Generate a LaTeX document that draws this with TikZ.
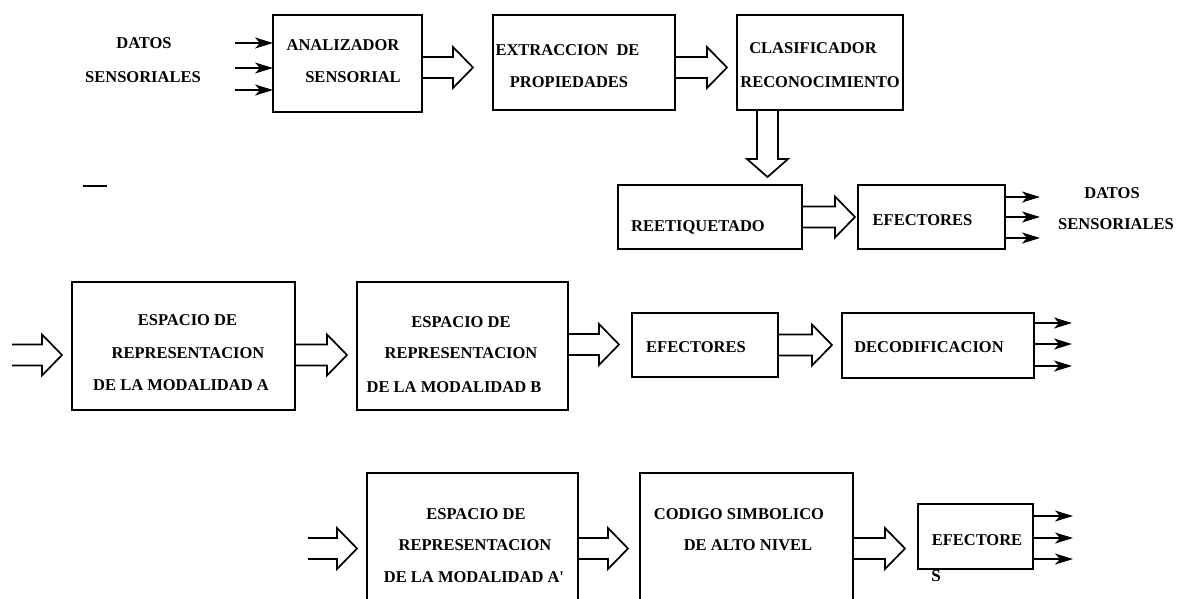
\documentclass[tikz,border=0pt]{standalone}
\usepackage{fontspec}
\setmainfont{Liberation Serif}
\usetikzlibrary{calc,arrows.meta}

% Open block arrow pointing right: shaft from #1, tip at the x of #2
\newcommand{\fatR}[2]{%
  \draw[fat] let \p1=(#1), \p2=(#2) in
    (\x1,{\y1+10.5pt}) -- ({\x2-20pt},{\y1+10.5pt}) -- ({\x2-20pt},{\y1+20.5pt})
    -- (\x2,\y1) -- ({\x2-20pt},{\y1-20.5pt}) -- ({\x2-20pt},{\y1-10.5pt})
    -- (\x1,{\y1-10.5pt});}
% Open block arrow pointing down: shaft from #1, tip at the y of #2
\newcommand{\fatD}[2]{%
  \draw[fat] let \p1=(#1), \p2=(#2) in
    ({\x1-10.5pt},\y1) -- ({\x1-10.5pt},{\y2+18pt}) -- ({\x1-20.5pt},{\y2+18pt})
    -- (\x1,\y2) -- ({\x1+20.5pt},{\y2+18pt}) -- ({\x1+10.5pt},{\y2+18pt})
    -- ({\x1+10.5pt},\y1);}

\tikzset{
  box/.style={draw, line width=1.8pt, inner sep=0pt, outer sep=0pt},
  txt/.style={inner sep=0pt, font=\fontsize{16.5}{20}\selectfont\bfseries},
  fat/.style={line width=1.7pt, line join=miter},
  arr/.style={line width=2pt, -{Stealth[length=18pt,width=11pt,inset=5pt]}},
}

\begin{document}
\begin{tikzpicture}[x=1pt,y=-1pt]
\useasboundingbox (0,0) rectangle (1177,598);
\fill[white] (0,0) rectangle (1177,598);
\clip (0,0) rectangle (1177,598);

% ---- first chain: sensing and recognition ----
\node[txt] (datA) at (144,43) {DATOS};
\node[txt] (senA) at (143,77) {SENSORIALES};

\node[box, minimum width=149pt, minimum height=97pt] (b1) at (347.5,63.5) {};
\node[txt] (t1a) at (343,45) {ANALIZADOR};
\node[txt] (t1b) at (353,77) {SENSORIAL};

\node[box, minimum width=182pt, minimum height=95pt] (b2) at (584,62.5) {};
\node[txt] (t2a) at (567.5,50) {EXTRACCION\ \ DE};
\node[txt] (t2b) at (569,82) {PROPIEDADES};

\node[box, minimum width=166pt, minimum height=95pt] (b3) at (820,62.5) {};
\node[txt] (t3a) at (813,48) {CLASIFICADOR};
\node[txt] (t3b) at (820,82) {RECONOCIMIENTO};

\node[box, minimum width=184pt, minimum height=64pt] (b4) at (710,217) {};
\node[txt] (t4) at (698,227) {REETIQUETADO};

\node[box, minimum width=147pt, minimum height=64pt] (b5) at (931.5,217) {};
\node[txt] (t5) at (922.5,220) {EFECTORES};

\node[txt] (datB) at (1112,193) {DATOS};
\node[txt] (senB) at (1116,224) {SENSORIALES};

\coordinate (in1) at (235,43);
\coordinate (in2) at (235,68);
\coordinate (in3) at (235,90);
\foreach \c in {in1,in2,in3} \draw[arr] (\c) -- (\c -| b1.west);

\fatR{$(b1.east)+(0,4)$}{$(b2.west)+(-20,0)$}
\fatR{$(b2.east)+(0,5)$}{$(b3.west)+(-10,0)$}
\fatD{$(b3.south)+(-52.5,0)$}{$(b4.north)+(0,-8)$}
\fatR{b4.east}{$(b5.west)+(-3,0)$}

\coordinate (o1) at (1040,197);
\coordinate (o2) at (1040,217);
\coordinate (o3) at (1040,238);
\foreach \c in {o1,o2,o3} \draw[arr] (b5.east |- \c) -- (\c);

\coordinate (dA) at (83,186);
\coordinate (dB) at (107,186);
\draw[line width=1.5pt] (dA) -- (dB);

% ---- second chain: modality A to modality B ----
\node[box, minimum width=223pt, minimum height=128pt] (ba) at (183.5,346) {};
\node[txt] (ta1) at (187.5,320) {ESPACIO DE};
\node[txt] (ta2) at (188,353) {REPRESENTACION};
\node[txt] (ta3) at (181,385) {DE LA MODALIDAD A};

\node[box, minimum width=211pt, minimum height=128pt] (bb) at (462.5,346) {};
\node[txt] (tb1) at (461,322) {ESPACIO DE};
\node[txt] (tb2) at (461,353) {REPRESENTACION};
\node[txt] (tb3) at (454,387) {DE LA MODALIDAD B};

\node[box, minimum width=146pt, minimum height=64pt] (be) at (705,345) {};
\node[txt] (te) at (696,347) {EFECTORES};

\node[box, minimum width=192pt, minimum height=65pt] (bd) at (938,345.5) {};
\node[txt] (td) at (929,347) {DECODIFICACION};

\coordinate (m0) at (12,355);
\fatR{m0}{$(ba.west)+(-10,0)$}
\fatR{$(ba.east)+(0,9)$}{$(bb.west)+(-10,0)$}
\fatR{$(bb.east)+(0,-1.5)$}{$(be.west)+(-13,0)$}
\fatR{be.east}{$(bd.west)+(-10,0)$}

\coordinate (p1) at (1072,323);
\coordinate (p2) at (1072,344);
\coordinate (p3) at (1072,366);
\foreach \c in {p1,p2,p3} \draw[arr] (bd.east |- \c) -- (\c);

% ---- third chain: symbolic code ----
\node[box, minimum width=211pt, minimum height=147pt] (bc) at (472.5,546.5) {};
\node[txt] (tc1) at (476,514) {ESPACIO DE};
\node[txt] (tc2) at (475,545) {REPRESENTACION};
\node[txt] (tc3) at (474,577) {DE LA MODALIDAD A\textquotesingle};

\node[box, minimum width=213pt, minimum height=147pt] (bs) at (746.5,546.5) {};
\node[txt] (ts1) at (739,514) {CODIGO SIMBOLICO};
\node[txt] (ts2) at (748,545) {DE ALTO NIVEL};

\node[box, minimum width=115pt, minimum height=65pt] (bf) at (975.5,536.5) {};
\node[txt] (tf) at (977,540) {EFECTORE};
\node[inner sep=0pt, font=\fontsize{17}{20}\selectfont\bfseries] (tfs) at (936,576) {S};

\coordinate (n0) at (308,548.5);
\fatR{n0}{$(bc.west)+(-10,0)$}
\fatR{$(bc.east)+(0,2)$}{$(bs.west)+(-12,0)$}
\fatR{$(bs.east)+(0,2)$}{$(bf.west)+(-13,0)$}

\coordinate (q1) at (1073,516);
\coordinate (q2) at (1073,538);
\coordinate (q3) at (1073,559);
\foreach \c in {q1,q2,q3} \draw[arr] (bf.east |- \c) -- (\c);
\end{tikzpicture}
\end{document}
